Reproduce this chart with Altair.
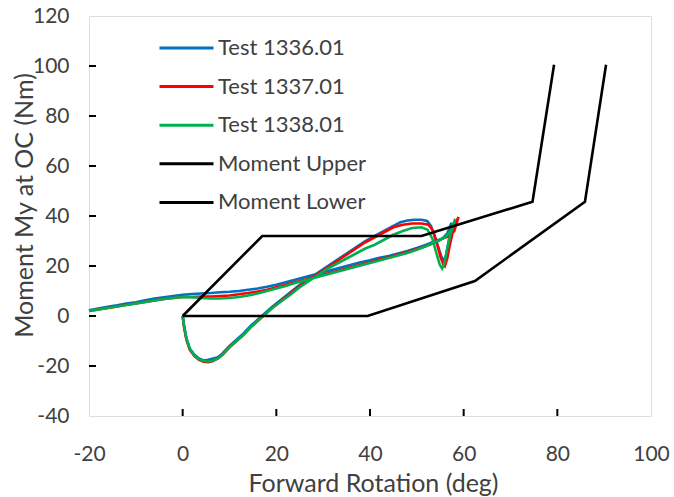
import altair as alt
import pandas as pd

series_names = ["Test 1336.01", "Test 1337.01", "Test 1338.01", "Moment Upper", "Moment Lower"]
series_colors = ["#0070C0", "#FF0000", "#00B050", "#000000", "#000000"]

x_ticks = [-20, 0, 20, 40, 60, 80, 100]
y_ticks = [-40, -20, 0, 20, 40, 60, 80, 100, 120]

upper = [(0, 0), (17, 32), (51, 32), (74.7, 45.7), (79.3, 100.5)]
lower = [(0, 0), (39.5, 0), (62.4, 14), (85.9, 45.7), (90.4, 100.5)]

blue = [(0, 0), (0.3, -4), (0.8, -9), (1.5, -13), (2.5, -15.5), (3.5, -17), (4.5, -17.8), (5.5, -17.5),
        (6.5, -17), (7.5, -16.5), (8.5, -15), (10, -12), (11.5, -9.5), (13, -7), (14.5, -4), (16, -1.5),
        (17.5, 1), (19, 3.5), (21, 6.5), (23, 9.5), (25, 12.5), (27, 15), (29, 17.5), (31, 20), (33, 22.5),
        (35, 25), (37, 27.5), (39, 30), (41, 32), (43, 34), (45, 36), (46.5, 37.5), (48, 38.2), (49.5, 38.5),
        (51, 38.5), (52.2, 38), (53, 36), (53.8, 32), (54.5, 28), (55.2, 24), (55.7, 22), (56.2, 24),
        (56.8, 30), (57.4, 37.3), (56.5, 33), (55.5, 31), (54, 30), (52, 28.5), (50, 27.2), (48, 26),
        (46, 25), (44, 24), (42, 23.3), (40, 22.3), (38, 21.5), (36, 20.5), (34, 19.5), (32, 18.5),
        (30, 17.5), (28, 16.5), (26, 15.5), (24, 14.5), (22, 13.5), (20, 12.5), (18, 11.7), (16, 11),
        (14, 10.5), (12, 10), (10, 9.7), (8, 9.5), (6, 9.2), (4, 9), (2, 8.8), (0, 8.5), (-2, 8),
        (-4, 7.5), (-6, 7), (-8, 6.3), (-10, 5.5), (-12, 5), (-14, 4.3), (-16, 3.7), (-18, 3), (-20, 2.3)]

red = [(0, 0), (0.3, -4.5), (0.8, -9.5), (1.5, -13.5), (2.5, -16), (3.5, -17.5), (4.5, -18.3), (5.5, -18.5),
       (6.5, -18), (7.5, -17), (8.5, -15.5), (10, -12.5), (11.5, -10), (13, -7.5), (14.5, -4.5), (16, -2),
       (17.5, 0.5), (19, 3), (21, 6), (23, 9), (25, 12), (27, 14.5), (29, 17), (31, 19.5), (33, 22),
       (35, 24.5), (37, 27), (39, 29.5), (41, 31.5), (43, 33.5), (45, 35.5), (47, 36.5), (49, 37),
       (51, 37), (52.5, 36.5), (53.5, 34), (54.3, 29), (55, 24), (55.6, 21), (56, 20), (56.5, 23),
       (57, 28), (57.6, 33), (58.2, 37), (58.9, 39.6), (58, 34), (57, 32), (55.5, 31), (54, 29.5),
       (52, 28), (50, 26.8), (48, 25.6), (46, 24.5), (44, 23.5), (42, 22.6), (40, 21.5), (38, 20.5),
       (36, 19.5), (34, 18.5), (32, 17.5), (30, 16.5), (28, 15.5), (26, 14.5), (24, 13.5), (22, 12.5),
       (20, 11.5), (18, 10.5), (16, 9.8), (14, 9.2), (12, 8.7), (10, 8.2), (8, 8), (6, 7.8), (4, 7.8),
       (2, 7.6), (0, 7.6), (-2, 7.2), (-4, 6.8), (-6, 6.2), (-8, 5.6), (-10, 5), (-12, 4.5), (-14, 3.8),
       (-16, 3.2), (-18, 2.6), (-20, 2)]

green = [(0, 0), (0.3, -4), (0.8, -9), (1.5, -13), (2.5, -15.8), (3.5, -17.2), (4.5, -18), (5.5, -18.2),
         (6.5, -17.8), (7.5, -17), (8.5, -15.5), (10, -12.5), (11.5, -10), (13, -7.5), (14.5, -4.5), (16, -2),
         (17.5, 0.5), (19, 3), (21, 5.8), (23, 8.5), (25, 11.5), (27, 14), (29, 16.5), (31, 19), (33, 21),
         (35, 23), (37, 25), (39, 27), (41, 28.5), (43, 30.5), (45, 32.5), (47, 34), (49, 35.2), (51, 35.5),
         (52.3, 34.5), (53.3, 31), (54.2, 25), (54.9, 20.5), (55.4, 19), (55.9, 21), (56.5, 27), (57.2, 33),
         (58.2, 38.8), (57.2, 34), (56, 31.5), (54.5, 30), (52, 28), (50, 26.5), (48, 25.2), (46, 24.2),
         (44, 23.2), (42, 22.2), (40, 21.2), (38, 20.2), (36, 19.2), (34, 18.2), (32, 17.2), (30, 16.2),
         (28, 15.2), (26, 14.2), (24, 13.2), (22, 12), (20, 11), (18, 10), (16, 9), (14, 8.2), (12, 7.6),
         (10, 7.2), (8, 7), (6, 7), (4, 7.2), (2, 7.5), (0, 7.6), (-2, 7.2), (-4, 6.8), (-6, 6.2), (-8, 5.6),
         (-10, 5), (-12, 4.4), (-14, 3.8), (-16, 3.2), (-18, 2.6), (-20, 2)]

rows = []
for name, pts in zip(series_names, [blue, red, green, upper, lower]):
    for i, (xv, yv) in enumerate(pts):
        rows.append({"series": name, "x": xv, "y": yv, "i": i})
df = pd.DataFrame(rows)

FONT = "Lato"
TXT = "#404040"

x_scale = alt.Scale(domain=[-20, 100], nice=False, zero=False)
y_scale = alt.Scale(domain=[-40, 120], nice=False, zero=False)

x_axis = alt.Axis(title="Forward Rotation (deg)", values=x_ticks, labelExpr="'' + datum.value",
                  ticks=False, tickSize=0, grid=False, domain=False, labelPadding=38,
                  labelBaseline="middle", labelFlush=False, labelOverlap=False,
                  labelFontSize=21, labelFont=FONT, labelColor=TXT,
                  titleFontSize=25, titleFont=FONT, titleColor=TXT, titleFontWeight="normal",
                  titleX=284, titleY=67, titleBaseline="middle", titleAlign="center")
y_axis = alt.Axis(title="Moment My at OC (Nm)", values=y_ticks, labelExpr="'' + datum.value",
                  ticks=False, tickSize=0, grid=False, domain=False, labelPadding=20,
                  labelFlush=False, labelOverlap=False,
                  labelFontSize=21, labelFont=FONT, labelColor=TXT,
                  titleFontSize=25, titleFont=FONT, titleColor=TXT, titleFontWeight="normal",
                  titleX=-65, titleY=189, titleBaseline="middle", titleAlign="center")

legend = alt.Legend(orient="none", legendX=69, legendY=22, title=None, symbolType="stroke",
                    symbolSize=2916, symbolStrokeWidth=3, clipHeight=20, rowPadding=16.6,
                    labelFontSize=22, labelFont=FONT, labelColor=TXT, labelOffset=3, padding=0)

xt_df = pd.DataFrame({"x": x_ticks[1:-1]})
yt_df = pd.DataFrame({"y": y_ticks[1:-1]})

xticks = alt.Chart(xt_df).mark_rule(color="#000000", strokeWidth=2).encode(
    x=alt.X("x:Q", scale=x_scale), y=alt.value(400), y2=alt.value(393))
yticks = alt.Chart(yt_df).mark_rule(color="#000000", strokeWidth=2).encode(
    y=alt.Y("y:Q", scale=y_scale), x=alt.value(0), x2=alt.value(7))

lines = alt.Chart(df).mark_line(strokeWidth=2.6).encode(
    x=alt.X("x:Q", scale=x_scale, axis=x_axis),
    y=alt.Y("y:Q", scale=y_scale, axis=y_axis),
    color=alt.Color("series:N", scale=alt.Scale(domain=series_names, range=series_colors), legend=legend),
    order="i:Q",
)

chart = alt.layer(xticks, yticks, lines).properties(
    width=562, height=400, autosize="none",
    padding={"left": 89, "top": 16, "right": 23, "bottom": 81},
).configure_view(stroke="black", strokeWidth=2.5).configure(background="white")

chart.save("out.html", embed_options={"renderer": "svg", "actions": False})
